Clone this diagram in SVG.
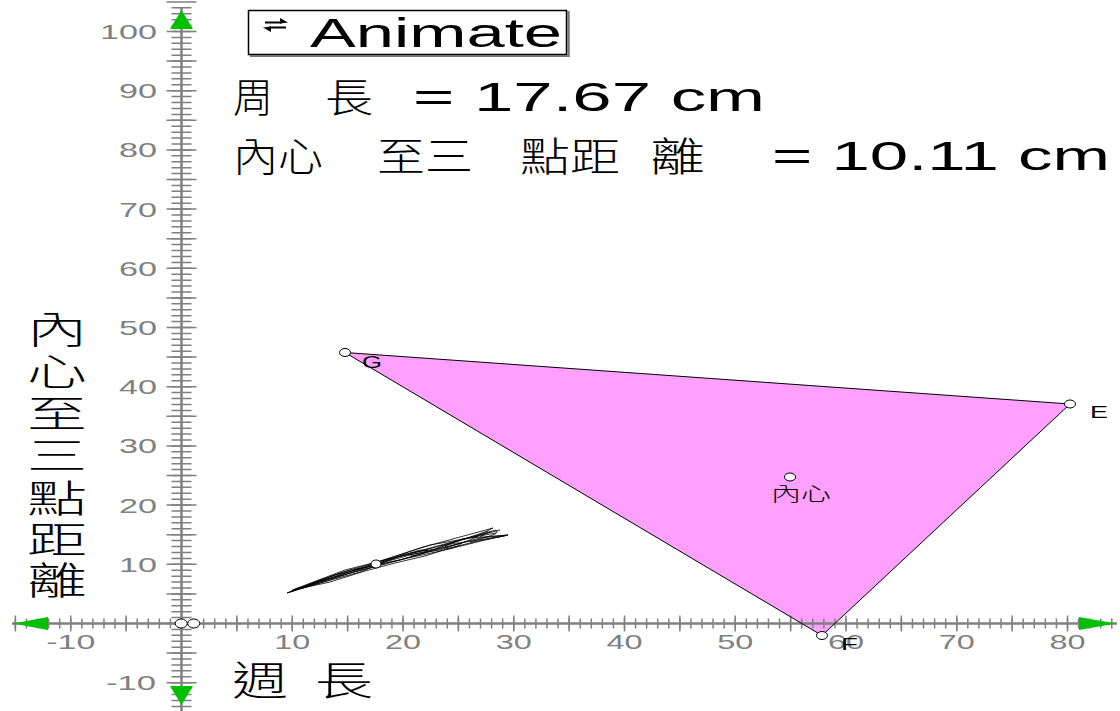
<svg xmlns="http://www.w3.org/2000/svg" width="1120" height="711" viewBox="0 0 1120 711">
<style>
.ax{stroke:#808080;fill:none}
.tl{font-family:"Liberation Sans",Arial,sans-serif;font-size:21px;fill:#808080}
.tly{text-anchor:end}
.tlx{text-anchor:middle}
.big{font-family:"Liberation Sans",Arial,sans-serif;font-size:40px;fill:#000}
.cjk{font-family:"Noto Sans CJK TC","Noto Sans CJK SC",sans-serif;font-size:40px;fill:#000;font-weight:300}
.vl{font-size:38px}
.lbl{font-family:"Liberation Sans",Arial,sans-serif;font-size:17px;fill:#000}
.pt{fill:#fff;stroke:#000;stroke-width:1}
.arr{fill:#00c000}
.edge{stroke:#000;stroke-width:1;fill:none}
.loc{stroke:#000;stroke-width:0.8;fill:none}
</style>
<rect width="1120" height="711" fill="#fff"/>
<g id="triangle">
<polygon points="345,352.5 1070,404 822,635.5" fill="#ffa0ff"/>
</g>
<g id="axes">
<line class="ax" x1="181.5" y1="8" x2="181.5" y2="711" stroke-width="2.5"/>
<line class="ax" x1="12" y1="623.5" x2="1117" y2="623.5" stroke-width="2.5"/>
<line class="ax" x1="181.5" y1="7.07" x2="181.5" y2="711" stroke-width="20" stroke-dasharray="1.5 4.42"/>
<line class="ax" x1="181.5" y1="1.15" x2="181.5" y2="711" stroke-width="30" stroke-dasharray="1.5 28.1"/>
<line class="ax" x1="14.625" y1="623.5" x2="1117" y2="623.5" stroke-width="10" stroke-dasharray="1.5 9.575"/>
<line class="ax" x1="14.625" y1="623.5" x2="1117" y2="623.5" stroke-width="16" stroke-dasharray="1.5 53.875"/>
<polygon class="arr" points="181.5,10 170,29 193,29"/>
<polygon class="arr" points="181.5,705 170,686 193,686"/>
<polygon class="arr" points="13,623.5 48,617 48,630"/>
<polygon class="arr" points="1116,623.5 1079,617 1079,630"/>
<ellipse class="pt" cx="181.25" cy="623.5" rx="6" ry="4.5"/>
<ellipse class="pt" cx="193.75" cy="623.5" rx="6" ry="4.5"/>
</g>
<g id="tick-labels">
<text class="tl tly" x="157" y="39" textLength="57" lengthAdjust="spacingAndGlyphs">100</text>
<text class="tl tly" x="157" y="98.2" textLength="38" lengthAdjust="spacingAndGlyphs">90</text>
<text class="tl tly" x="157" y="157.4" textLength="38" lengthAdjust="spacingAndGlyphs">80</text>
<text class="tl tly" x="157" y="216.6" textLength="38" lengthAdjust="spacingAndGlyphs">70</text>
<text class="tl tly" x="157" y="275.8" textLength="38" lengthAdjust="spacingAndGlyphs">60</text>
<text class="tl tly" x="157" y="335" textLength="38" lengthAdjust="spacingAndGlyphs">50</text>
<text class="tl tly" x="157" y="394.2" textLength="38" lengthAdjust="spacingAndGlyphs">40</text>
<text class="tl tly" x="157" y="453.4" textLength="38" lengthAdjust="spacingAndGlyphs">30</text>
<text class="tl tly" x="157" y="512.6" textLength="38" lengthAdjust="spacingAndGlyphs">20</text>
<text class="tl tly" x="157" y="571.8" textLength="38" lengthAdjust="spacingAndGlyphs">10</text>
<text class="tl tly" x="156" y="690.2" textLength="50" lengthAdjust="spacingAndGlyphs">-10</text>
<text class="tl tlx" x="70.75" y="649" textLength="49" lengthAdjust="spacingAndGlyphs">-10</text>
<text class="tl tlx" x="292.25" y="649" textLength="36" lengthAdjust="spacingAndGlyphs">10</text>
<text class="tl tlx" x="403" y="649" textLength="36" lengthAdjust="spacingAndGlyphs">20</text>
<text class="tl tlx" x="513.75" y="649" textLength="36" lengthAdjust="spacingAndGlyphs">30</text>
<text class="tl tlx" x="624.5" y="649" textLength="36" lengthAdjust="spacingAndGlyphs">40</text>
<text class="tl tlx" x="735.25" y="649" textLength="36" lengthAdjust="spacingAndGlyphs">50</text>
<text class="tl tlx" x="846" y="649" textLength="36" lengthAdjust="spacingAndGlyphs">60</text>
<text class="tl tlx" x="956.75" y="649" textLength="36" lengthAdjust="spacingAndGlyphs">70</text>
<text class="tl tlx" x="1067.5" y="649" textLength="36" lengthAdjust="spacingAndGlyphs">80</text>
</g>
<g id="animate-button">
<rect x="248.5" y="10.5" width="318" height="44" fill="#fff" stroke="#000" stroke-width="1.5"/>
<line x1="568.5" y1="11" x2="568.5" y2="57" stroke="#777" stroke-width="2.5"/>
<line x1="250" y1="56" x2="569.5" y2="56" stroke="#777" stroke-width="2"/>
<line x1="265" y1="22.5" x2="282" y2="22.5" stroke="#000" stroke-width="2"/>
<polygon points="288,22.5 280,18 280,23.5" fill="#000"/>
<line x1="269" y1="27.5" x2="286" y2="27.5" stroke="#000" stroke-width="2"/>
<polygon points="263,27.5 271,26.5 271,32" fill="#000"/>
<text class="big" x="310" y="47" textLength="252" lengthAdjust="spacingAndGlyphs">Animate</text>
</g>
<g id="perimeter-text">
<text class="cjk" x="233" y="112" textLength="40" lengthAdjust="spacingAndGlyphs">周</text>
<text class="cjk" x="325" y="112" textLength="48" lengthAdjust="spacingAndGlyphs">長</text>
<text class="big" x="413" y="111" textLength="352" lengthAdjust="spacingAndGlyphs">= 17.67 cm</text>
</g>
<g id="distance-text">
<text class="cjk" x="233" y="171" textLength="90" lengthAdjust="spacingAndGlyphs">內心</text>
<text class="cjk" x="377" y="171" textLength="96" lengthAdjust="spacingAndGlyphs">至三</text>
<text class="cjk" x="520" y="171" textLength="100" lengthAdjust="spacingAndGlyphs">點距</text>
<text class="cjk" x="650" y="171" textLength="55" lengthAdjust="spacingAndGlyphs">離</text>
<text class="big" x="772" y="170" textLength="338" lengthAdjust="spacingAndGlyphs">= 10.11 cm</text>
</g>
<g id="y-axis-label">
<text class="cjk vl" x="27" y="343" textLength="60" lengthAdjust="spacingAndGlyphs">內</text>
<text class="cjk vl" x="27" y="385" textLength="60" lengthAdjust="spacingAndGlyphs">心</text>
<text class="cjk vl" x="27" y="427" textLength="60" lengthAdjust="spacingAndGlyphs">至</text>
<text class="cjk vl" x="27" y="469" textLength="60" lengthAdjust="spacingAndGlyphs">三</text>
<text class="cjk vl" x="27" y="512" textLength="60" lengthAdjust="spacingAndGlyphs">點</text>
<text class="cjk vl" x="27" y="553" textLength="60" lengthAdjust="spacingAndGlyphs">距</text>
<text class="cjk vl" x="27" y="594" textLength="60" lengthAdjust="spacingAndGlyphs">離</text>
</g>
<g id="x-axis-label">
<text class="cjk" x="232" y="695" textLength="56" lengthAdjust="spacingAndGlyphs">週</text>
<text class="cjk" x="315" y="695" textLength="58" lengthAdjust="spacingAndGlyphs">長</text>
</g>
<g id="connectors">
<line class="edge" x1="345" y1="352.5" x2="1070" y2="404"/>
<line class="edge" x1="1070" y1="404" x2="822" y2="635.5"/>
<line class="edge" x1="822" y1="635.5" x2="345" y2="352.5"/>
</g>
<g id="locus">
<path class="loc" d="M287,593 L330,578 L376,563 L420,548 L460,537 L493,528"/>
<path class="loc" d="M290,592 L340,573 L380,561 L430,545 L470,538 L508,535"/>
<path class="loc" d="M292,590 L335,577 L378,566 L425,553 L465,542 L505,536"/>
<path class="loc" d="M295,589 L345,570 L385,560 L440,546 L480,535 L500,530"/>
<path class="loc" d="M300,588 L350,573 L390,562 L445,550 L485,540 L508,535"/>
<path class="loc" d="M493,528 L470,540 L440,550 L400,556 L360,572 L320,583 L287,593"/>
<path class="loc" d="M508,535 L480,538 L450,546 L410,555 L370,566 L330,580 L292,591"/>
<path class="loc" d="M490,532 L460,540 L430,548 L395,558 L355,570 L310,585"/>
<path class="loc" d="M289,592 L320,580 L350,570 L372,566 L400,560 L430,551 L455,542 L488,531"/>
<path class="loc" d="M298,589 L330,582 L365,571 L395,563 L425,556 L450,548 L478,541 L503,536"/>
<path class="loc" d="M305,586 L335,575 L368,567 L405,554 L435,549 L462,539 L496,533"/>
<path class="loc" d="M480,537 Q488,531 496,530 Q500,533 490,536 L470,542"/>
<path class="loc" d="M410,553 Q420,549 428,550 Q424,554 412,556 Z"/>
<path class="loc" d="M445,546 Q456,542 462,543 Q458,547 447,549 Z"/>
</g>
<g id="point-G"><ellipse class="pt" cx="345" cy="352.5" rx="5.5" ry="4"/><text class="lbl" x="362" y="368" textLength="20" lengthAdjust="spacingAndGlyphs">G</text></g>
<g id="point-E"><ellipse class="pt" cx="1070" cy="404" rx="5.5" ry="4"/><text class="lbl" x="1090" y="418" textLength="18" lengthAdjust="spacingAndGlyphs">E</text></g>
<g id="point-F"><ellipse class="pt" cx="822" cy="635.5" rx="5.5" ry="4"/><text class="lbl" x="841" y="650" textLength="17" lengthAdjust="spacingAndGlyphs">F</text></g>
<g id="point-incenter"><ellipse class="pt" cx="790" cy="477" rx="5.5" ry="4"/><text class="cjk" x="771" y="501" style="font-size:19px" textLength="60" lengthAdjust="spacingAndGlyphs">內心</text></g>
<g id="point-locus"><ellipse class="pt" cx="376" cy="564" rx="5" ry="4"/></g>
</svg>
